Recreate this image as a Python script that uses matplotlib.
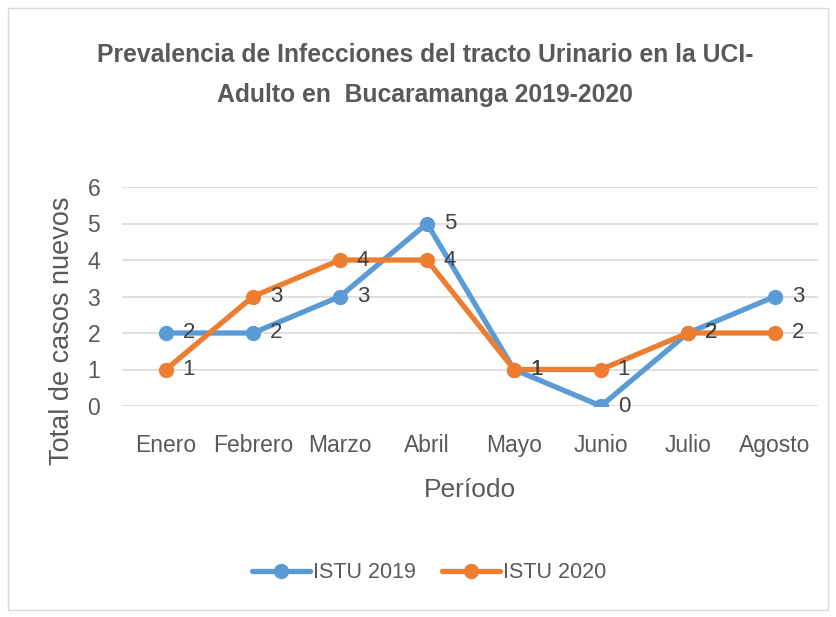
import matplotlib
matplotlib.use("Agg")
import matplotlib.pyplot as plt
from matplotlib.patches import Rectangle

plt.rcParams['font.family'] = ['Liberation Sans', 'DejaVu Sans']

meses = ["Enero", "Febrero", "Marzo", "Abril", "Mayo", "Junio", "Julio", "Agosto"]
istu_2019 = [2, 2, 3, 5, 1, 0, 2, 3]
istu_2020 = [1, 3, 4, 4, 1, 1, 2, 2]
y_ticks = [0, 1, 2, 3, 4, 5, 6]

azul = "#5B9BD5"
naranja = "#ED7D31"
gris = "#595959"

W, H = 837, 617
fig = plt.figure(figsize=(W / 100, H / 100), dpi=100)
ax = fig.add_axes([122.5 / W, 1 - 406 / H, (818.5 - 122.5) / W, (406 - 187) / H])

x = list(range(len(meses)))
ax.plot(x, istu_2019, color=azul, lw=3.8, marker="o", ms=10, label="ISTU 2019",
        solid_capstyle="round", zorder=3)
ax.plot(x, istu_2020, color=naranja, lw=3.8, marker="o", ms=10, label="ISTU 2020",
        solid_capstyle="round", zorder=4)

# etiquetas de datos a la derecha de cada punto
for serie in (istu_2019, istu_2020):
    for xi, v in zip(x, serie):
        ax.annotate(str(v), (xi, v), xytext=(12, 0), textcoords="offset points",
                    ha="left", va="center", fontsize=16, color="#404040", zorder=5)

ax.set_xlim(-0.5, len(meses) - 0.5)
ax.set_ylim(0, 6)
ax.set_yticks(y_ticks)
ax.set_xticks(x)
ax.set_xticklabels(meses)
ax.grid(axis="y", color="#D9D9D9", lw=1.2)
ax.set_axisbelow(True)
for s in ax.spines.values():
    s.set_visible(False)
ax.tick_params(length=0, labelsize=16.5, labelcolor=gris)
ax.tick_params(axis="y", pad=16)
ax.tick_params(axis="x", pad=20)

ax.set_ylabel("Total de casos nuevos", fontsize=19.5, color=gris, va="center")
ax.set_xlabel("Período", fontsize=19, color=gris, va="center")
ax.yaxis.set_label_coords((62 - 122.5) / 696, (406 - 331) / 219)
ax.xaxis.set_label_coords((470 - 122.5) / 696, (406 - 490) / 219)

fig.text(0.508, 1 - 55 / H, "Prevalencia de Infecciones del tracto Urinario en la UCI-",
         ha="center", va="center", fontsize=17.8, fontweight="bold", color=gris)
fig.text(0.508, 1 - 95 / H, "Adulto en  Bucaramanga 2019-2020",
         ha="center", va="center", fontsize=17.8, fontweight="bold", color=gris)

fig.legend(loc="center", bbox_to_anchor=(0.513, 1 - 573 / H), ncol=2, frameon=False,
           fontsize=15.5, labelcolor=gris, handlelength=2.7, handletextpad=0.15,
           columnspacing=1.2)

fig.patches.append(Rectangle((8 / W, 1 - 610 / H), 820 / W, 602 / H,
                             transform=fig.transFigure, fill=False, ec="#D9D9D9", lw=1))

fig.savefig("out.png", dpi=100)
